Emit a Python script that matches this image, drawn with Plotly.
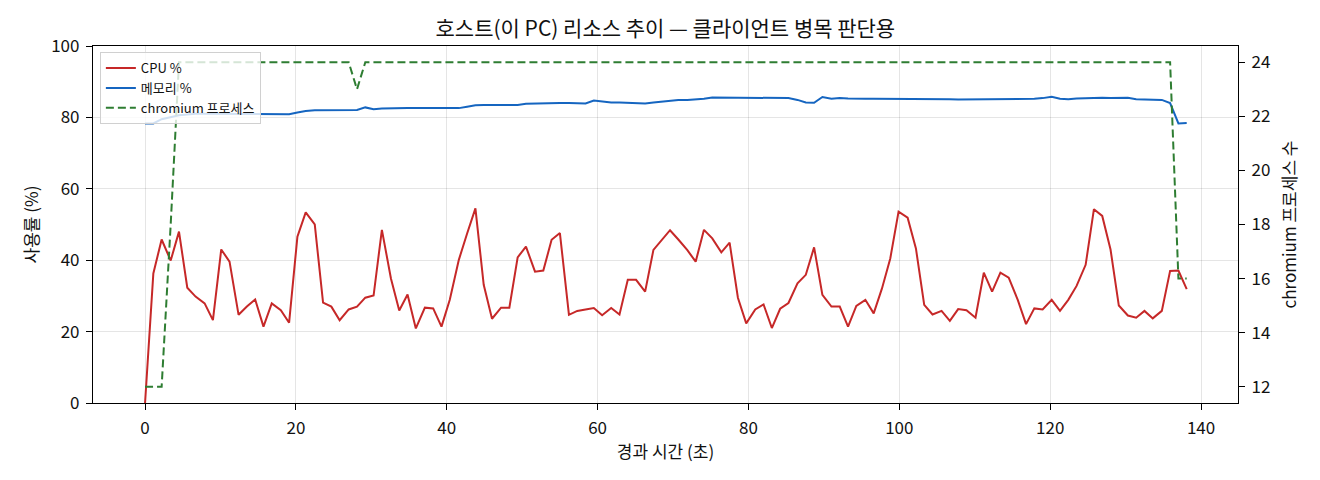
import plotly.graph_objects as go

# elapsed seconds (sample ~every 1.12 s)
elapsed = [
    0.0, 1.1, 2.2, 3.4, 4.5, 5.6, 6.7, 7.9, 9.0, 10.1, 11.2, 12.4, 13.5, 14.6, 15.7, 16.8,
    18.0, 19.1, 20.2, 21.3, 22.5, 23.6, 24.7, 25.8, 27.0, 28.1, 29.2, 30.3, 31.4, 32.6, 33.7,
    34.8, 35.9, 37.1, 38.2, 39.3, 40.4, 41.6, 42.7, 43.8, 44.9, 46.0, 47.2, 48.3, 49.4, 50.5,
    51.7, 52.8, 53.9, 55.0, 56.2, 57.3, 58.4, 59.5, 60.6, 61.8, 62.9, 64.0, 65.1, 66.3, 67.4,
    68.5, 69.6, 70.7, 71.9, 73.0, 74.1, 75.2, 76.4, 77.5, 78.6, 79.7, 80.9, 82.0, 83.1, 84.2,
    85.3, 86.5, 87.6, 88.7, 89.8, 91.0, 92.1, 93.2, 94.3, 95.5, 96.6, 97.7, 98.8, 99.9, 101.1,
    102.2, 103.3, 104.4, 105.6, 106.7, 107.8, 108.9, 110.1, 111.2, 112.3, 113.4, 114.5, 115.7,
    116.8, 117.9, 119.0, 120.2, 121.3, 122.4, 123.5, 124.7, 125.8, 126.9, 128.0, 129.1, 130.3,
    131.4, 132.5, 133.6, 134.8, 135.9, 137.0, 138.1,
]

cpu_pct = [
    0.0, 36.3, 45.8, 39.9, 48.0, 32.3, 29.8, 27.9, 23.2, 43.0, 39.6, 24.7, 27.0, 29.0, 21.4,
    27.9, 26.0, 22.5, 46.6, 53.4, 50.0, 28.1, 27.0, 23.2, 26.2, 27.0, 29.5, 30.1, 48.5, 34.9,
    25.9, 30.4, 20.9, 26.7, 26.5, 21.4, 28.9, 40.1,
    47.5, 54.5, 33.1, 23.6, 26.7, 26.7, 40.8, 43.8, 36.8, 37.1, 45.7, 47.6, 24.7, 25.8, 26.2,
    26.6, 24.6, 26.6, 24.8, 34.5, 34.5, 31.2, 42.9, 45.7, 48.4, 45.8, 42.8, 39.6, 48.5, 46.1,
    42.2, 44.9, 29.5, 22.3, 26.2, 27.6, 21.0, 26.4, 28.0, 33.5, 35.9, 43.6,
    30.3, 27.0, 27.0, 21.4, 27.2, 28.9, 25.1, 32.1, 40.5, 53.6, 51.9, 43.3, 27.5, 24.8, 25.8,
    23.0, 26.3, 26.0, 23.9, 36.5, 31.2, 36.5, 35.1, 28.9, 22.1, 26.5, 26.2, 28.9, 25.8, 28.9,
    32.8, 38.7, 54.3, 52.4, 43.0, 27.3, 24.5, 23.9, 25.8, 23.7, 25.8, 37.0, 37.1, 31.9,
]

mem_pct = [
    78.3, 78.3, 79.5, 80.0, 80.6, 80.8, 81.0, 81.0, 81.0, 81.0, 81.0, 81.1, 81.0, 81.0, 81.0,
    81.0, 80.9, 80.9, 81.4, 81.8, 82.0, 82.0, 82.1, 82.0, 82.1, 82.1, 82.8, 82.3, 82.5, 82.6,
    82.6, 82.6, 82.6, 82.6, 82.6, 82.6, 82.4, 82.6, 83.0, 83.4, 83.5, 83.5, 83.5, 83.5, 83.5,
    83.8, 83.9, 83.9, 84.0, 84.0, 84.0, 83.9, 83.9, 84.7, 84.4, 84.2, 84.2, 84.1, 84.0, 83.9,
    84.2, 84.5, 84.7, 84.9, 84.9, 85.0, 85.2, 85.6, 85.6, 85.5, 85.5, 85.5, 85.5, 85.5, 85.5,
    85.5, 85.4, 84.9, 84.2, 84.1, 85.7, 85.2, 85.4, 85.3, 85.2, 85.2, 85.2, 85.2, 85.3, 85.3,
    85.2, 85.2, 85.2, 85.2, 85.1, 85.1, 85.0, 85.0, 85.1, 85.1, 85.2, 85.1, 85.1, 85.2, 85.2,
    85.2, 85.4, 85.8, 85.2, 85.1, 85.3, 85.4, 85.5, 85.5, 85.4, 85.4, 85.5, 85.1, 85.1, 85.0,
    84.9, 84.0, 78.3, 78.4,
]

chromium_cnt = [
    12, 12, 12, 18, 24, 24, 24, 24, 24, 24, 24, 24, 24, 24, 24, 24, 24, 24, 24, 24, 24, 24,
    24, 24, 24, 23, 24, 24, 24, 24, 24, 24, 24, 24, 24, 24, 24, 24, 24, 24, 24, 24, 24, 24,
    24, 24, 24, 24, 24, 24, 24, 24, 24, 24, 24, 24, 24, 24, 24, 24, 24, 24, 24, 24, 24, 24,
    24, 24, 24, 24, 24, 24, 24, 24, 24, 24, 24, 24, 24, 24, 24, 24, 24, 24, 24, 24, 24, 24,
    24, 24, 24, 24, 24, 24, 24, 24, 24, 24, 24, 24, 24, 24, 24, 24, 24, 24, 24, 24, 24, 24,
    24, 24, 24, 24, 24, 24, 24, 24, 24, 24, 24, 24, 16, 16,
]

font = "Noto Sans CJK KR"

fig = go.Figure()
fig.add_trace(go.Scatter(x=elapsed, y=cpu_pct, mode="lines", name="CPU %",
                         line=dict(color="#c62828", width=2)))
fig.add_trace(go.Scatter(x=elapsed, y=mem_pct, mode="lines", name="메모리 %",
                         line=dict(color="#1565c0", width=2)))
fig.add_trace(go.Scatter(x=elapsed, y=chromium_cnt, mode="lines", name="chromium 프로세스",
                         yaxis="y2", line=dict(color="#2e7d32", width=2, dash="8px,4px")))

axis_common = dict(showline=True, linecolor="black", linewidth=1.2, ticks="outside",
                   ticklen=6, tickcolor="black", tickfont=dict(size=17, color="#111"),
                   ticklabelstandoff=3, zeroline=False)

# the page body adds an 8px offset, margins account for it
fig.update_layout(
    width=1320, height=480,
    margin=dict(l=85, r=90, t=38, b=85),
    paper_bgcolor="white", plot_bgcolor="white",
    font=dict(family=font, color="#111"),
    title=dict(text="호스트(이 PC) 리소스 추이 — 클라이언트 병목 판단용", x=0.498, xanchor="center",
               y=0.958, yref="container", yanchor="middle", font=dict(size=21, color="#111")),
    xaxis=dict(range=[-6.9, 144.9], dtick=20, mirror=True, showgrid=True,
               gridcolor="rgba(0,0,0,0.1)", gridwidth=1,
               title=dict(text="경과 시간 (초)", font=dict(size=17), standoff=8),
               **axis_common),
    yaxis=dict(range=[0, 100], dtick=20, showgrid=True, gridcolor="rgba(0,0,0,0.1)",
               title=dict(text="사용률 (%)", font=dict(size=17), standoff=8),
               **axis_common),
    yaxis2=dict(range=[11.4, 24.6], dtick=2, overlaying="y", side="right", showgrid=False,
                title=dict(text="chromium 프로세스 수", font=dict(size=17), standoff=14),
                **axis_common),
    legend=dict(x=0.006, y=0.983, xanchor="left", yanchor="top",
                bgcolor="rgba(255,255,255,0.8)", bordercolor="#d0d0d0", borderwidth=1,
                font=dict(size=13, color="#111")),
    showlegend=True,
)

fig.write_html("out.html")
